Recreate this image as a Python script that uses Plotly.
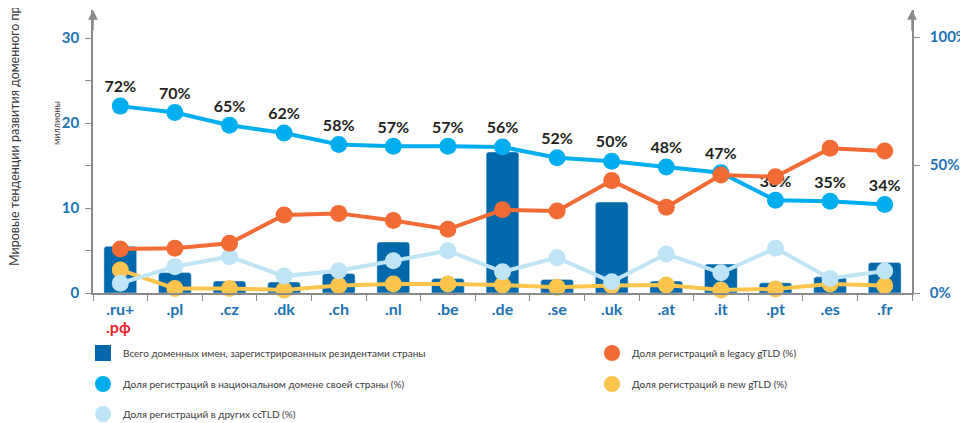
import plotly.graph_objects as go

domains = [".ru+", ".pl", ".cz", ".dk", ".ch", ".nl", ".be", ".de",
           ".se", ".uk", ".at", ".it", ".pt", ".es", ".fr"]

# millions of domain names registered by residents
total_names = [5.5, 2.4, 1.4, 1.3, 2.3, 6.0, 1.7, 16.6, 1.6, 10.7, 1.4, 3.4, 1.2, 1.9, 3.6]

# shares, %
national_share = [73, 70.5, 65.5, 62.5, 58, 57.3, 57.3, 57, 52.8, 51.5, 49.2, 47, 36.2, 35.8, 34.6]
national_text = ["72%", "70%", "65%", "62%", "58%", "57%", "57%", "56%",
                 "52%", "50%", "48%", "47%", "36%", "35%", "34%"]
legacy_share = [17.2, 17.5, 19.4, 30.5, 31.1, 28.3, 24.9, 32.5, 32.0, 43.9, 33.5, 46.1, 45.4, 56.5, 55.5]
other_cc_share = [3.8, 10.3, 14.2, 6.6, 8.7, 12.6, 16.5, 8.3, 13.8, 4.4, 15.2, 7.9, 17.5, 5.7, 8.6]
new_gtld_share = [9.0, 1.8, 1.8, 1.2, 2.9, 3.5, 3.5, 3.1, 2.2, 2.9, 3.1, 1.2, 1.6, 3.5, 2.9]

BAR = "#0068ab"
BLUE = "#00aeef"
ORANGE = "#f26b35"
LIGHT = "#bfe4f6"
YELLOW = "#fdc54e"
TICK_BLUE = "#1b72b5"
GREY = "#8a8a8a"
FONT = "Lato"

# the page body has an 8px margin, so the figure is 8px smaller than the window
W, H, OFF = 960, 415, 8
L, R, T, B = 85, 56, 2, 130
PW, PH = W - L - R, H - T - B


def px_x(x):
    # screen pixel -> paper x
    return (x - OFF - L) / PW


def px_y(y):
    # screen pixel -> paper y
    return (H - B - (y - OFF)) / PH


fig = go.Figure()

fig.add_trace(go.Bar(x=domains, y=total_names, marker_color=BAR, width=0.6,
                     showlegend=False, yaxis="y"))


def line(vals, color, width=4):
    return go.Scatter(x=domains, y=vals, mode="lines+markers", yaxis="y2",
                      line=dict(color=color, width=width),
                      marker=dict(color=color, size=17), cliponaxis=False,
                      showlegend=False)


fig.add_trace(line(new_gtld_share, YELLOW))
fig.add_trace(line(other_cc_share, LIGHT))
fig.add_trace(line(national_share, BLUE))
fig.add_trace(go.Scatter(x=domains, y=national_share, yaxis="y2", mode="markers+text",
                         text=national_text, textposition="top center",
                         marker=dict(size=14, opacity=0), cliponaxis=False,
                         textfont=dict(family=FONT, size=16, color="#231f20", weight="bold"),
                         showlegend=False, hoverinfo="skip"))
fig.add_trace(line(legacy_share, ORANGE))

# legend entries, each in its own legend box
legend_items = [
    ("Всего доменных имен, зарегистрированных резидентами страны", "square", BAR, "legend"),
    ("Доля регистраций в национальном домене своей страны (%)", "circle", BLUE, "legend2"),
    ("Доля регистраций в других ccTLD (%)", "circle", LIGHT, "legend3"),
    ("Доля регистраций в legacy gTLD (%)", "circle", ORANGE, "legend4"),
    ("Доля регистраций в new gTLD (%)", "circle", YELLOW, "legend5"),
]
for name, sym, color, lg in legend_items:
    fig.add_trace(go.Scatter(x=[None], y=[None], mode="markers", name=name, legend=lg,
                             marker=dict(symbol=sym, size=17, color=color)))

legend_pos = {
    "legend": (83, 353),
    "legend2": (83, 384),
    "legend3": (83, 414),
    "legend4": (592, 353),
    "legend5": (592, 384),
}
legend_layout = {}
for key, (lx, ly) in legend_pos.items():
    legend_layout[key] = dict(x=px_x(lx), y=px_y(ly), xanchor="left", yanchor="middle",
                              bgcolor="rgba(0,0,0,0)", borderwidth=0,
                              font=dict(family=FONT, size=10, color="#3a3a3a"))

fig.update_layout(
    width=W,
    height=H,
    margin=dict(l=L, r=R, t=T, b=B, autoexpand=False),
    plot_bgcolor="white",
    paper_bgcolor="white",
    font=dict(family=FONT),
    barcornerradius=3,
    xaxis=dict(
        tickson="boundaries", ticks="outside", ticklen=6, tickcolor=GREY,
        showline=True, linecolor=GREY, linewidth=1.5, showgrid=False,
        tickfont=dict(family=FONT, size=16, color=TICK_BLUE, weight="bold"),
        ticklabelstandoff=1, range=[-0.5, 14.5],
    ),
    yaxis=dict(
        range=[0, PH / 8.5], tickmode="array",
        tickvals=[0, 5, 10, 15, 20, 25, 30],
        ticktext=["0", "", "10", "", "20", "", "30"],
        ticks="outside", ticklen=6, tickcolor=GREY, ticklabelstandoff=3,
        showline=True, linecolor=GREY, linewidth=1.5, showgrid=False, zeroline=False,
        tickfont=dict(family=FONT, size=15, color=TICK_BLUE, weight="bold"),
    ),
    yaxis2=dict(
        range=[0, PH / 2.56], overlaying="y", side="right", tickmode="array",
        tickvals=[0, 50, 100], ticktext=["0%", "50%", "100%"],
        ticks="outside", ticklen=6, tickcolor=GREY, ticklabelstandoff=7,
        showline=True, linecolor=GREY, linewidth=1.5, showgrid=False, zeroline=False,
        tickfont=dict(family=FONT, size=15, color=TICK_BLUE, weight="bold"),
    ),
    **legend_layout,
)

# arrow heads on the vertical axes
for ax_x in [0, 1]:
    fig.add_annotation(x=ax_x, y=1, xref="paper", yref="paper", ax=0, ay=22,
                       text="", showarrow=True, arrowhead=2, arrowsize=1.3,
                       arrowwidth=1.5, arrowcolor=GREY)

# second line of the first category label
fig.add_annotation(x=".ru+", y=px_y(326), xref="x", yref="paper", text=".рф",
                   showarrow=False, yanchor="middle", xshift=-2,
                   font=dict(family=FONT, size=16, color="#e8262a", weight="bold"))

fig.add_annotation(x=px_x(14), y=px_y(268), xref="paper", yref="paper",
                   text="Мировые тенденции развития доменного пространства",
                   textangle=-90, showarrow=False, xanchor="center", yanchor="bottom",
                   font=dict(family=FONT, size=12.5, color="#3a3a3a"))
fig.add_annotation(x=px_x(57), y=px_y(123), xref="paper", yref="paper", text="миллионы",
                   textangle=-90, showarrow=False, xanchor="center", yanchor="middle",
                   font=dict(family=FONT, size=9, color="#3a3a3a"))

fig.write_html("out.html")
